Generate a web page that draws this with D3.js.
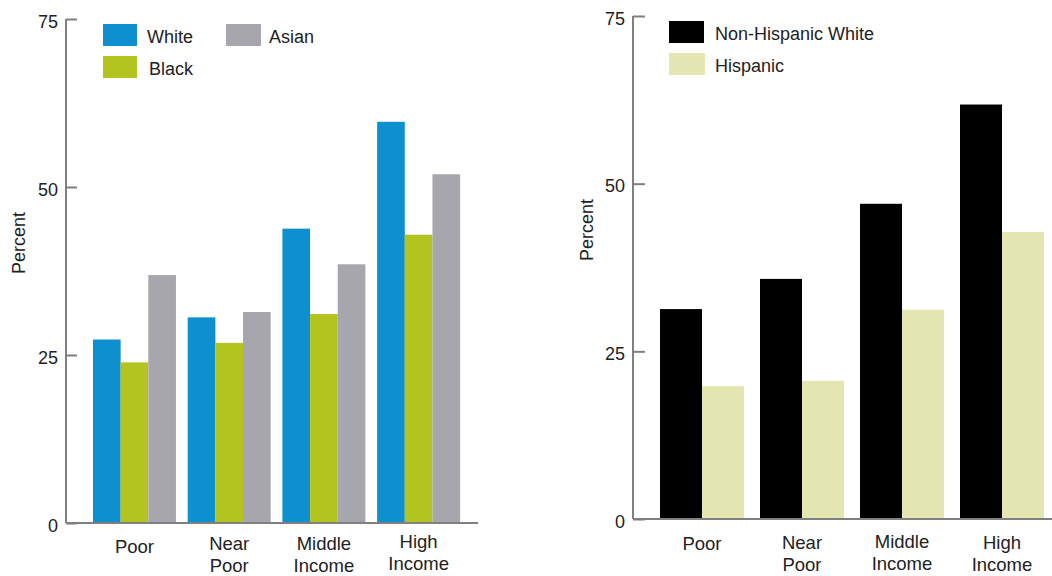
<!DOCTYPE html>
<html>
<head>
<meta charset="utf-8">
<script src="https://cdn.jsdelivr.net/npm/d3@7"></script>
<style>
  html, body { margin: 0; padding: 0; background: #fff; }
  svg { display: block; }
  text { font-family: "Liberation Sans", Arial, sans-serif; fill: #222; }
</style>
</head>
<body>
<svg id="chart" width="1052" height="576"></svg>
<script>
// ---- Data ----
const categories = [["Poor"], ["Near", "Poor"], ["Middle", "Income"], ["High", "Income"]];
const categoryKeys = ["Poor", "Near Poor", "Middle Income", "High Income"];

const raceSeries = ["White", "Black", "Asian"];
const whiteValues = [27.3, 30.6, 43.8, 59.7];
const blackValues = [23.9, 26.8, 31.1, 42.9];
const asianValues = [36.9, 31.4, 38.5, 51.9];

const ethSeries = ["Non-Hispanic White", "Hispanic"];
const nhWhiteValues = [31.3, 35.8, 47.0, 61.8];
const hispanicValues = [19.8, 20.6, 31.2, 42.8];

const yTicks = [0, 25, 50, 75];
const yLabel = "Percent";

// ---- Styles ----
const raceColors = ["#0e8fd0", "#b4c41e", "#a6a6ac"];
const ethColors = ["#000000", "#e3e6b0"];
const axisColor = "#808080";

const svg = d3.select("#chart");

function drawPanel(opts) {
  const g = svg.append("g");
  const x = d3.scaleBand().domain(categoryKeys).range(opts.xRange)
    .paddingInner(opts.padInner).paddingOuter(0.25);
  const xs = d3.scaleBand().domain(opts.series).range([0, x.bandwidth()]);
  const y = d3.scaleLinear().domain([0, 75]).range(opts.yRange);

  // bars
  opts.series.forEach((s, si) => {
    g.append("g").selectAll("rect")
      .data(opts.values[si])
      .join("rect")
      .attr("x", (d, i) => x(categoryKeys[i]) + xs(s))
      .attr("y", d => y(d))
      .attr("width", xs.bandwidth())
      .attr("height", d => y(0) - y(d))
      .attr("fill", opts.colors[si]);
  });

  // y axis
  const yAxis = d3.axisRight(y).tickValues(yTicks).tickSize(opts.tickLen).tickFormat("");
  const ya = g.append("g").attr("transform", `translate(${opts.axisX},0)`).call(yAxis);
  ya.select(".domain").attr("stroke", axisColor).attr("stroke-width", 2)
    .attr("d", `M0,${y(75)}V${y(0)}`);
  ya.selectAll(".tick line").attr("stroke", axisColor).attr("stroke-width", 2);

  g.append("g").selectAll("text").data(yTicks).join("text")
    .attr("x", opts.labelX).attr("y", d => y(d) + 8.5)
    .attr("text-anchor", "end").attr("font-size", 18).text(d => d);

  // baseline
  g.append("line").attr("x1", opts.axisX).attr("x2", opts.baseEnd)
    .attr("y1", y(0)).attr("y2", y(0))
    .attr("stroke", axisColor).attr("stroke-width", 2);

  // category labels
  categories.forEach((lines, i) => {
    const cx = x(categoryKeys[i]) + x.bandwidth() / 2;
    const t = g.append("text")
      .attr("x", cx)
      .attr("y", opts.catY[i])
      .attr("text-anchor", "middle").attr("font-size", 18.5);
    lines.forEach((ln, li) => {
      t.append("tspan").attr("x", cx)
        .attr("dy", li === 0 ? 0 : 22).text(ln);
    });
  });

  // y label
  g.append("text")
    .attr("transform", `translate(${opts.yLabelPos[0]},${opts.yLabelPos[1]}) rotate(-90)`)
    .attr("text-anchor", "middle").attr("font-size", 18).text(yLabel);

  // legend
  opts.legend.forEach((L, i) => {
    g.append("rect").attr("x", L.x).attr("y", L.y).attr("width", L.w).attr("height", 22)
      .attr("fill", opts.colors[i]);
    g.append("text").attr("x", L.tx).attr("y", L.y + 19)
      .attr("font-size", 18).text(opts.series[i]);
  });
}

drawPanel({
  series: raceSeries,
  values: [whiteValues, blackValues, asianValues],
  colors: raceColors,
  xRange: [69.3, 483.8],
  padInner: 0.124,
  yRange: [523, 19],
  axisX: 66,
  tickLen: 11,
  labelX: 58,
  baseEnd: 478,
  catY: [553, 550, 550, 548],
  yLabelPos: [25, 243],
  legend: [
    { x: 103, y: 24, w: 34, tx: 147 },
    { x: 103, y: 56, w: 34, tx: 149 },
    { x: 226, y: 24, w: 35, tx: 269 }
  ]
});

drawPanel({
  series: ethSeries,
  values: [nhWhiteValues, hispanicValues],
  colors: ethColors,
  xRange: [635, 1069],
  padInner: 0.16,
  yRange: [519, 16],
  axisX: 633,
  tickLen: 12,
  labelX: 625,
  baseEnd: 1052,
  catY: [550, 549, 548, 549],
  yLabelPos: [593, 230],
  legend: [
    { x: 669, y: 21, w: 35, tx: 715 },
    { x: 669, y: 53, w: 36, tx: 715 }
  ]
});
</script>
</body>
</html>
